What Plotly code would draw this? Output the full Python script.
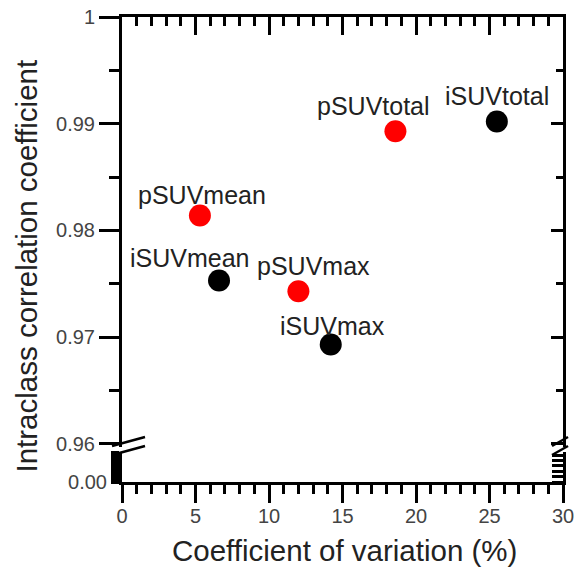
import plotly.graph_objects as go

# Data
labels = ["pSUVtotal", "iSUVtotal", "pSUVmean", "iSUVmean", "pSUVmax", "iSUVmax"]
cv = [18.6, 25.5, 5.3, 6.6, 12.0, 14.2]
icc = [0.9893, 0.9902, 0.9814, 0.9753, 0.9743, 0.9693]
groups = ["p", "i", "p", "i", "p", "i"]
label_dx = [-22, 0, 2, -29, 15, 2]
label_dy = [25, 26, 20, 23, 25, 19]

x_ticks = [0, 5, 10, 15, 20, 25, 30]
y_ticks = [0.96, 0.97, 0.98, 0.99, 1.0]
y_ticklabels = ["0.96", "0.97", "0.98", "0.99", "1"]
x_title = "Coefficient of variation (%)"
y_title = "Intraclass correlation coefficient"

W, H = 579, 572
L, R, T, B = 122, 16, 17, 90
PW, PH = W - L - R, H - T - B

def px2paper(px, py):
    return (px - L) / PW, (H - B - py) / PH

up_bot = (H - B - 447) / PH
lo_top = (H - B - 452) / PH

FONT = "Liberation Sans, Arial"
colors = {"p": "#ff0000", "i": "#000000"}
fig = go.Figure()
for g in ["p", "i"]:
    idx = [k for k in range(len(cv)) if groups[k] == g]
    fig.add_trace(go.Scatter(
        x=[cv[k] for k in idx], y=[icc[k] for k in idx], mode="markers",
        marker=dict(size=22, color=colors[g], line=dict(width=0)),
        xaxis="x", yaxis="y", showlegend=False, hoverinfo="skip"))

# invisible helper traces so that every axis pair is created
for xa, ya in [("x", "y2"), ("x2", "y"), ("x", "y3"), ("x", "y4")]:
    fig.add_trace(go.Scatter(x=[None], y=[None], xaxis=xa, yaxis=ya, mode="markers",
                             showlegend=False, hoverinfo="skip"))

for k in range(len(cv)):
    fig.add_annotation(x=cv[k], y=icc[k], xref="x", yref="y", text=labels[k],
                       showarrow=False, xshift=label_dx[k], yshift=label_dy[k],
                       font=dict(family=FONT, size=25, color="#222222"))

# axis titles
tx, ty = px2paper(344.5, 550)
fig.add_annotation(x=tx, y=ty, xref="paper", yref="paper", text=x_title, showarrow=False,
                   xanchor="center", yanchor="middle",
                   font=dict(family=FONT, size=29.5, color="#222222"))
tx, ty = px2paper(26, 266.5)
fig.add_annotation(x=tx, y=ty, xref="paper", yref="paper", text=y_title, showarrow=False,
                   textangle=-90, xanchor="center", yanchor="middle",
                   font=dict(family=FONT, size=29.5, color="#222222"))

tickfont = dict(family=FONT, size=20, color="#444444")
AX = dict(showline=True, linecolor="black", linewidth=3, showgrid=False, zeroline=False,
          automargin=False)

fig.update_layout(
    width=W, height=H, margin=dict(l=L, r=R, t=T, b=B),
    paper_bgcolor="white", plot_bgcolor="white",
    xaxis=dict(**AX, range=[0, 30], anchor="y2", tickvals=x_ticks, ticks="outside",
               ticklen=18, tickwidth=3, tickcolor="black", tickfont=tickfont,
               ticklabelstandoff=-4,
               minor=dict(dtick=1, ticks="outside", ticklen=9, tickwidth=3, tickcolor="black")),
    xaxis2=dict(**AX, range=[0, 30], overlaying="x", side="top", anchor="y",
                tickvals=x_ticks, ticks="inside", ticklen=18, tickwidth=3, tickcolor="black",
                showticklabels=False,
                minor=dict(dtick=1, ticks="inside", ticklen=9, tickwidth=3, tickcolor="black")),
    yaxis=dict(**AX, range=[0.9597, 1.0], domain=[up_bot, 1], anchor="x",
               tickvals=y_ticks, ticktext=y_ticklabels, ticks="outside", ticklen=20,
               tickwidth=3, tickcolor="black", tickfont=tickfont,
               minor=dict(dtick=0.005, tick0=0.96, ticks="outside", ticklen=10, tickwidth=3, tickcolor="black")),
    yaxis3=dict(**AX, range=[0.9597, 1.0], overlaying="y", side="right", anchor="x",
                tickvals=y_ticks, ticks="inside", ticklen=12, tickwidth=3, tickcolor="black",
                showticklabels=False,
                minor=dict(dtick=0.005, tick0=0.96, ticks="inside", ticklen=7, tickwidth=3, tickcolor="black")),
    yaxis2=dict(**AX, range=[0, 1], domain=[0, lo_top], anchor="x",
                tickvals=[0], ticktext=["0.00"], ticks="outside", ticklen=8, tickwidth=3,
                tickcolor="black", tickfont=tickfont,
                minor=dict(dtick=0.1, ticks="outside", ticklen=8, tickwidth=3, tickcolor="black")),
    yaxis4=dict(**AX, range=[0, 1], overlaying="y2", side="right", anchor="x",
                tickvals=[0], ticks="", showticklabels=False,
                minor=dict(dtick=0.18, ticks="inside", ticklen=11, tickwidth=2.5, tickcolor="black")),
)

# axis break marks
def brk(cx):
    shapes = []
    x0, x1 = cx - 10, cx + 23
    if cx > 300:
        x0, x1 = cx - 11, cx + 5
    for (ya, yb) in [(446, 437), (455, 446)]:
        pa = px2paper(x0, ya)
        pb = px2paper(x1, yb)
        shapes.append(dict(type="line", xref="paper", yref="paper",
                           x0=pa[0], y0=pa[1], x1=pb[0], y1=pb[1],
                           line=dict(color="black", width=2.5), layer="above"))
    return shapes

for s in brk(122) + brk(563):
    fig.add_shape(**s)

fig.write_html("out.html")
